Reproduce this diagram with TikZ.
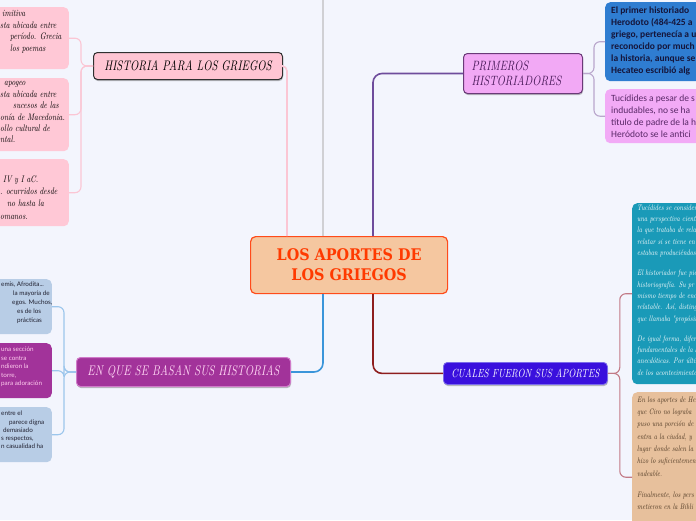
\documentclass[tikz,border=0pt]{standalone}
\usepackage{fontspec}
\usetikzlibrary{shadows}
\newfontfamily\handit[FakeStretch=0.8]{lmroman10-italic.otf}
\newfontfamily\topicit[FakeStretch=0.78]{lmroman10-italic.otf}
\newfontfamily\titlefont[FakeStretch=0.9]{DejaVu Serif}
\newfontfamily\cardsans{Carlito}
\newfontfamily\smallsans{Lato}
\definecolor{bg}{HTML}{F3F5FD}
\definecolor{greyline}{HTML}{D0D0D4}
\definecolor{pinkline}{HTML}{FBC6D4}
\definecolor{histfill}{HTML}{FFC5D3}
\definecolor{histdraw}{HTML}{303030}
\definecolor{pinkbox}{HTML}{FFC8D6}
\definecolor{primfill}{HTML}{F2A9F5}
\definecolor{primdraw}{HTML}{6A3A78}
\definecolor{primtext}{HTML}{4A1A5A}
\definecolor{purpline}{HTML}{6E4C9C}
\definecolor{primbr}{HTML}{B9A6CC}
\definecolor{bluebox}{HTML}{2F7DD1}
\definecolor{bluetext}{HTML}{15153A}
\definecolor{orchbox}{HTML}{F2AAF6}
\definecolor{orchtext}{HTML}{5A2868}
\definecolor{cfill}{HTML}{F5C7A0}
\definecolor{cdraw}{HTML}{FF4B1A}
\definecolor{ctext}{HTML}{FF3A00}
\definecolor{blueline}{HTML}{3A95DA}
\definecolor{lbline}{HTML}{9CC6EC}
\definecolor{enqfill}{HTML}{A2339A}
\definecolor{enqdraw}{HTML}{D07AC9}
\definecolor{enqtext}{HTML}{FFD6F4}
\definecolor{lbbox}{HTML}{B8CDE6}
\definecolor{lbtext}{HTML}{202030}
\definecolor{magtext}{HTML}{FFCCEE}
\definecolor{redline}{HTML}{8E1E1E}
\definecolor{redbr}{HTML}{C27A86}
\definecolor{cualfill}{HTML}{3A10DD}
\definecolor{cualdraw}{HTML}{7B6BEA}
\definecolor{tealbox}{HTML}{1A9AB8}
\definecolor{tanbox}{HTML}{E7C09C}
\definecolor{tantext}{HTML}{4A3520}
\tikzset{
  card/.style={rectangle, rounded corners=5pt, inner sep=0pt},
  topic/.style={rectangle, rounded corners=4pt, line width=1pt, inner sep=0pt,
    drop shadow={shadow xshift=0.6pt, shadow yshift=-1.6pt, opacity=0.25, fill=black}},
  txt/.style={inner sep=0pt, anchor=north west, align=left},
  link/.style={line width=1.6pt, rounded corners=9pt},
  branch/.style={line width=1.1pt, rounded corners=6pt},
}
\begin{document}
\begin{tikzpicture}[x=1pt,y=-1pt]
\fill[bg] (0,0) rectangle (696,520);
\useasboundingbox (0,0) rectangle (696,520);

% ---------- centre and topics ----------
\node[card, fill=cfill, draw=cdraw, line width=1.2pt, minimum width=197pt, minimum height=57pt,
  anchor=north west, align=center, text=ctext,
  font=\titlefont\bfseries\fontsize{16}{20}\selectfont] (c) at (250,236) {LOS APORTES DE\\LOS GRIEGOS};

\node[topic, fill=histfill, draw=histdraw, minimum width=189pt, minimum height=27pt, anchor=north west,
  font=\topicit\fontsize{13.8}{15}\selectfont, text=black] (hist) at (93,52) {HISTORIA PARA LOS GRIEGOS};

\node[topic, fill=primfill, draw=primdraw, minimum height=40pt, anchor=north west, align=left,
  text width=103pt, inner xsep=8pt, text=primtext,
  font=\topicit\fontsize{13.5}{15.5}\selectfont] (prim) at (463,53) {PRIMEROS\\HISTORIADORES};

\node[topic, fill=enqfill, draw=enqdraw, minimum width=214pt, minimum height=29pt, anchor=north west,
  font=\topicit\fontsize{14}{15}\selectfont, text=enqtext] (enq) at (76,357) {EN QUE SE BASAN SUS HISTORIAS};

\node[topic, fill=cualfill, draw=cualdraw, line width=0.8pt, minimum width=164pt, minimum height=22pt, anchor=north west,
  font=\topicit\fontsize{11.8}{13}\selectfont, text=white] (cual) at (443,362) {CUALES FUERON SUS APORTES};

% ---------- cards ----------
\node[card, fill=pinkbox, minimum width=130pt, minimum height=62pt, anchor=north east] (p1) at (69,7) {};
\node[card, fill=pinkbox, minimum width=130pt, minimum height=73pt, anchor=north east] (p2) at (69,78) {};
\node[card, fill=pinkbox, minimum width=130pt, minimum height=67pt, anchor=north east] (p3) at (69,159) {};

\node[card, fill=bluebox, minimum width=120pt, minimum height=79pt, anchor=north west] (bb) at (605,2) {};
\node[card, fill=orchbox, minimum width=120pt, minimum height=54pt, anchor=north west] (ob) at (605,89) {};

\node[card, fill=lbbox, minimum width=120pt, minimum height=55pt, anchor=north east] (la) at (52,279) {};
\node[card, fill=enqfill, minimum width=120pt, minimum height=55pt, anchor=north east] (lb) at (52,343) {};
\node[card, fill=lbbox, minimum width=120pt, minimum height=55pt, anchor=north east] (lc) at (52,407) {};

\node[card, fill=tealbox, minimum width=120pt, minimum height=181pt, anchor=north west] (tb) at (632,203) {};
\node[card, fill=tanbox, minimum width=120pt, minimum height=170pt, anchor=north west] (nb) at (632,392) {};

% ---------- connectors ----------
\coordinate (xh) at (287,0);
\coordinate (xg) at (323,0);
\coordinate (xp) at (373,0);
\draw[line width=1.6pt, greyline] (c.north -| xg) -- (xg);
\draw[line width=1.6pt, pinkline, rounded corners=5pt] (c.north -| xh) |- (hist.east);
\draw[link, purpline] (c.north -| xp) |- (prim.west);
\draw[link, blueline] (c.south -| xg) |- (enq.east);
\draw[link, redline] (c.south -| xp) |- (cual.west);

\foreach \n in {p1,p2,p3} \draw[branch, pinkline] (hist.west) -- ++(-12,0) |- (\n.east);
\foreach \n in {bb,ob} \draw[branch, primbr] (prim.east) -- ++(11,0) |- (\n.west);
\foreach \n in {la,lb,lc} \draw[branch, lbline] (enq.west) -- ++(-12,0) |- (\n.east);
\foreach \n in {tb,nb} \draw[branch, redbr] (cual.east) -- ++(12,0) |- (\n.west);

% ---------- card texts ----------
\node[txt, font=\handit\fontsize{9.5}{11.4}\selectfont] (tp1) at (0,10.4)
  {\hspace*{2pt}imitiva\\sta ubicada entre\\\hspace*{10pt}período. Grecia\\\hspace*{10pt}los poemas};
\node[txt, font=\handit\fontsize{9.5}{11.4}\selectfont] (tp2) at (0,81.4)
  {\hspace*{4pt}apogeo\\sta ubicada entre\\\hspace*{13pt}sucesos de las\\onía de Macedonia.\\ollo cultural de\\ntal.};
\node[txt, font=\handit\fontsize{9.5}{12.3}\selectfont] (tp3) at (0,175.4)
  {\hspace*{3pt}IV y I aC.\\. ocurridos desde\\\hspace*{7pt}no hasta la\\omanos.};

\node[txt, text=bluetext, font=\cardsans\bfseries\fontsize{9.5}{12}\selectfont] (tbb) at (611,6.3)
  {El primer historiado\\Herodoto (484-425 a\\griego, pertenecía a u\\reconocido por much\\la historia, aunque se\\Hecateo escribió alg};
\node[txt, text=orchtext, font=\cardsans\fontsize{9.5}{12}\selectfont] (tob) at (611,94.5)
  {Tucídides a pesar de s\\indudables, no se ha\\título de padre de la h\\Heródoto se le antici};

\node[txt, text=lbtext, font=\smallsans\fontsize{6.3}{9}\selectfont] (tla) at (1,282)
  {emis, Afrodita...\\\hspace*{12pt}la mayoría de\\\hspace*{11pt}egos. Muchos,\\\hspace*{16pt}es de los\\\hspace*{16pt}prácticas};
\node[txt, text=magtext, font=\smallsans\fontsize{6.3}{8.4}\selectfont] (tlb) at (1,347)
  {una sección\\se contra\\ndieron la\\torre,\\para adoración};
\node[txt, text=lbtext, font=\smallsans\fontsize{6.3}{8.2}\selectfont] (tlc) at (1,411)
  {entre el\\\hspace*{8pt}parece digna\\\hspace*{2pt}demasiado\\s respectos,\\n casualidad ha};

\node[txt, text=white, font=\handit\fontsize{8}{11.3}\selectfont] (ttb) at (637,204.6)
  {Tucídides se considera\\una perspectiva científ\\la que trataba de rela\\relatar si se tiene en c\\estaban produciéndose\\[9pt]
   El historiador fue pio\\historiografía. Su pr\\mismo tiempo de enco\\relatable. Así, disting\\que llamaba "propósito\\[9pt]
   De igual forma, difer\\fundamentales de la h\\anecdóticas. Por últim\\de los acontecimientos};
\node[txt, text=tantext, font=\handit\fontsize{8}{12.3}\selectfont] (tnb) at (637,396.6)
  {En los aportes de He\\que Ciro no lograba\\puso una porción de\\entra a la ciudad, y\\lugar donde salen la\\hizo lo suficientemen\\vadeable.\\[9pt]
   Finalmente, los pers\\metieron en la Bibli};
\end{tikzpicture}
\end{document}
